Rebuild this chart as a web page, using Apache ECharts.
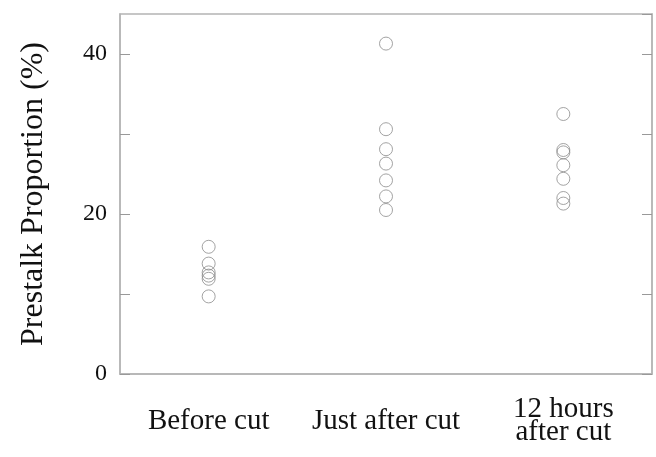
<!DOCTYPE html>
<html>
<head>
<meta charset="utf-8">
<script src="https://cdn.jsdelivr.net/npm/echarts@6/dist/echarts.min.js"></script>
<style>html,body{margin:0;padding:0;background:#fff}#c{width:656px;height:457px}</style>
</head>
<body>
<div id="c"></div>
<script>
const categories = ['Before cut', 'Just after cut', '12 hours\nafter cut'];
const beforeCut = [15.9, 13.8, 12.7, 12.3, 11.9, 9.7];
const justAfterCut = [41.3, 30.6, 28.1, 26.3, 24.2, 22.2, 20.5];
const twelveHoursAfter = [32.5, 28.0, 27.7, 26.1, 24.4, 22.0, 21.3];
const yLabels = [0, 20, 40];

const groups = [beforeCut, justAfterCut, twelveHoursAfter];
const points = [];
groups.forEach((g, i) => g.forEach(v => points.push([i, v])));

const font = 'Liberation Serif';
const axisColor = '#b4b4b4';
const chart = echarts.init(document.getElementById('c'));
chart.setOption({
  animation: false,
  backgroundColor: '#fff',
  grid: { left: 120, right: 4, top: 14, bottom: 83, show: true, borderColor: axisColor, borderWidth: 1.5,
    containLabel: false, outerBoundsMode: 'none' },
  xAxis: {
    type: 'category', data: categories, boundaryGap: true,
    axisLine: { show: true, lineStyle: { color: axisColor, width: 1.5 } },
    axisTick: { show: false },
    axisLabel: { color: '#111', fontFamily: font, fontSize: 29, margin: 47, verticalAlign: 'middle', lineHeight: 23, interval: 0 }
  },
  yAxis: [{
    type: 'value', min: 0, max: 45, interval: 10,
    name: 'Prestalk Proportion (%)', nameLocation: 'middle', nameGap: 70, nameRotate: 90,
    nameTextStyle: { color: '#111', fontFamily: font, fontSize: 32 },
    splitLine: { show: false },
    axisLine: { show: true, lineStyle: { color: axisColor, width: 1.5 } },
    axisTick: { show: true, inside: true, length: 10, lineStyle: { color: '#999', width: 1 } },
    axisLabel: { color: '#111', fontFamily: font, fontSize: 24, margin: 13, showMaxLabel: false,
      formatter: v => yLabels.indexOf(v) >= 0 ? String(v) : '' }
  }, {
    type: 'value', min: 0, max: 45, interval: 10, position: 'right',
    splitLine: { show: false },
    axisLine: { show: true, lineStyle: { color: axisColor, width: 1.5 } },
    axisTick: { show: true, inside: true, length: 10, lineStyle: { color: '#999', width: 1 } },
    axisLabel: { show: false }
  }],
  series: [{
    type: 'scatter', data: points, symbol: 'circle', symbolSize: 13,
    itemStyle: { color: 'rgba(255,255,255,0)', borderColor: '#8c8c8c', borderWidth: 1 }
  }]
});
</script>
</body>
</html>
